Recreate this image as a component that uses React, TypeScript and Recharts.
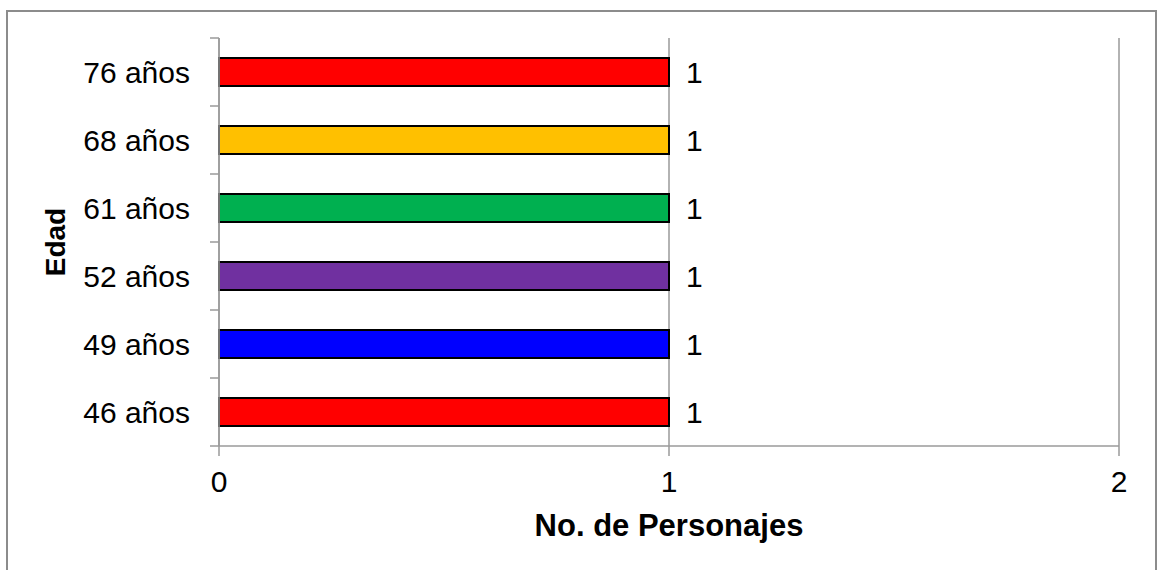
import React from 'react';
import { BarChart, Bar, XAxis, YAxis, CartesianGrid, Cell, LabelList } from 'recharts';

const edades = ['76 años', '68 años', '61 años', '52 años', '49 años', '46 años'];
const personajes = [1, 1, 1, 1, 1, 1];
const colores = ['#FF0000', '#FFC000', '#00B050', '#7030A0', '#0000FF', '#FF0000'];
const xTicks = [0, 1, 2];

const data = edades.map((edad, i) => ({ edad, valor: personajes[i] }));

const W = 1157;
const H = 570;
const MARGIN = { top: 38, right: 38, left: 0, bottom: 0 };
const Y_AXIS_W = 219;
const X_AXIS_H = 124;
const AXIS_X = MARGIN.left + Y_AXIS_W;
const BAND = (H - MARGIN.top - MARGIN.bottom - X_AXIS_H) / edades.length;

const FONT = '"Liberation Sans", Arial, sans-serif';
const AXIS_COLOR = '#9a9a9a';

function EdadTick(props: any) {
  const { y, payload, index } = props;
  const isLast = index === edades.length - 1;
  return (
    <g>
      <line x1={AXIS_X - 9} x2={AXIS_X} y1={y - BAND / 2} y2={y - BAND / 2} stroke={AXIS_COLOR} strokeWidth={1.5} />
      {isLast && (
        <line x1={AXIS_X - 9} x2={AXIS_X} y1={y + BAND / 2} y2={y + BAND / 2} stroke={AXIS_COLOR} strokeWidth={1.5} />
      )}
      <text x={AXIS_X - 29} y={y} dy="0.36em" textAnchor="end" fill="#000" fontSize={30} fontFamily={FONT}>
        {payload.value}
      </text>
    </g>
  );
}

function EdadLabel(props: any) {
  const { viewBox } = props;
  const cx = 55;
  const cy = viewBox.y + viewBox.height / 2;
  return (
    <text
      x={cx}
      y={cy}
      transform={`rotate(-90, ${cx}, ${cy})`}
      textAnchor="middle"
      dominantBaseline="central"
      fontSize={28}
      fontWeight="bold"
      fontFamily={FONT}
      fill="#000"
    >
      Edad
    </text>
  );
}

export default function App() {
  return (
    <div style={{ position: 'absolute', left: 0, top: 0, width: W, height: H, background: '#fff', overflow: 'hidden' }}>
      <div
        style={{
          position: 'absolute',
          left: 6,
          top: 10,
          width: 1147,
          height: 600,
          border: '2px solid #8c8c8c',
        }}
      />
      <div style={{ position: 'absolute', left: 0, top: 0 }}>
        <BarChart width={W} height={H} data={data} layout="vertical" margin={MARGIN} barSize={28}>
          <CartesianGrid horizontal={false} vertical stroke={AXIS_COLOR} strokeWidth={1.5} />
          <XAxis
            type="number"
            domain={[0, 2]}
            ticks={xTicks}
            height={X_AXIS_H}
            tickSize={10}
            tickMargin={15}
            axisLine={{ stroke: AXIS_COLOR, strokeWidth: 1.5 }}
            tickLine={{ stroke: AXIS_COLOR, strokeWidth: 1.5 }}
            tick={{ fill: '#000', fontSize: 30, fontFamily: FONT }}
            label={{
              value: 'No. de Personajes',
              position: 'insideBottom',
              offset: 34,
              fill: '#000',
              fontSize: 31,
              fontWeight: 'bold',
              fontFamily: FONT,
            }}
          />
          <YAxis
            type="category"
            dataKey="edad"
            width={Y_AXIS_W}
            axisLine={{ stroke: AXIS_COLOR, strokeWidth: 1.5 }}
            tickLine={false}
            tick={<EdadTick />}
            interval={0}
            label={<EdadLabel />}
          />
          <Bar dataKey="valor" stroke="#000" strokeWidth={2} isAnimationActive={false}>
            {data.map((d, i) => (
              <Cell key={d.edad} fill={colores[i]} />
            ))}
            <LabelList dataKey="valor" position="right" offset={17} fill="#000" fontSize={30} fontFamily={FONT} />
          </Bar>
        </BarChart>
      </div>
    </div>
  );
}
